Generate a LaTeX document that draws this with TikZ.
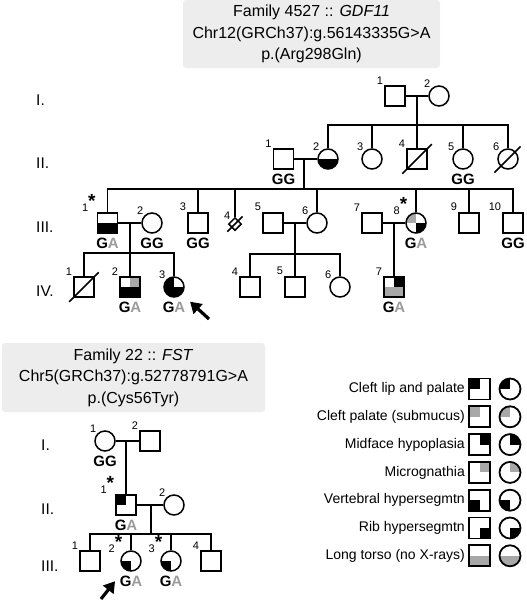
\documentclass[tikz,border=0pt]{standalone}
\usepackage{fontspec}
\setmainfont{Liberation Sans}
\usetikzlibrary{shapes.geometric,arrows.meta}

\definecolor{boxgray}{HTML}{EDEDED}
\definecolor{phgray}{HTML}{A8A8A8}
\definecolor{agray}{HTML}{9B9B9B}

\newcommand{\GA}{G\textcolor{agray}{A}}
\newcommand{\prb}{\raisebox{4pt}{\fontsize{19}{19}\selectfont\bfseries *}}

\tikzset{
  ped/.style = {draw, line width=1.5pt, minimum size=20pt, inner sep=0pt},
  male/.style = {ped, rectangle},
  female/.style = {ped, circle},
  fills/.style = {path picture={\foreach \c/\a in {#1} {\fill[\c] (path picture bounding box.center) rectangle (path picture bounding box.\a);}}},
  num/.style = {font=\fontsize{11}{11}\selectfont, inner sep=1pt},
  geno/.style = {font=\fontsize{15}{15}\selectfont\bfseries, inner sep=1pt, label distance=3pt},
  gen/.style = {font=\fontsize{15.5}{16}\selectfont, anchor=west, inner sep=0pt},
  link/.style = {line width=1.5pt},
  proband/.style = {line width=3.2pt, -{Triangle[length=11pt,width=13pt]}},
  hdr/.style = {fill=boxgray, rounded corners=3pt, align=center, font=\fontsize{16}{21.5}\selectfont},
  legtxt/.style = {anchor=east, font=\fontsize{14}{14}\selectfont, inner sep=0pt},
  leg/.style = {line width=1.8pt, minimum size=21pt},
}

\begin{document}
\begin{tikzpicture}[x=1pt, y=-1pt]
  \useasboundingbox (0,0) rectangle (527,600);

  % Family 4527
  \node[hdr, minimum width=257pt, minimum height=68pt] (hd1) at (311.5,34)
    {Family 4527 :: \textit{GDF11}\\Chr12(GRCh37):g.56143335G>A\\p.(Arg298Gln)};

  \node[gen] (g1) at (36,100) {I.};
  \node[gen] (g2) at (36,163) {II.};
  \node[gen] (g3) at (36,227) {III.};
  \node[gen] (g4) at (36,291) {IV.};

  \node[male, label={[num]135:1}] (i1) at (395,96) {};
  \node[female, label={[num]135:2}] (i2) at (439,96) {};

  \node[male, label={[num]135:1}, label={[geno]below:GG}] (ii1) at (283.5,159) {};
  \node[female, fills={black/south west,black/south east}, label={[num]135:2}] (ii2) at (328,159) {};
  \node[female, label={[num]135:3}] (ii3) at (372,159) {};
  \node[male, label={[num]135:4}] (ii4) at (417,159) {};
  \node[female, label={[num]135:5}, label={[geno]below:GG}] (ii5) at (463,159) {};
  \node[female, label={[num]135:6}] (ii6) at (508,159) {};

  \node[male, fills={black/south west,black/south east}, label={[num]135:1\prb}, label={[geno]below:\GA}] (iii1) at (107.5,223) {};
  \node[female, label={[num]135:2}, label={[geno]below:GG}] (iii2) at (152,223) {};
  \node[male, label={[num]135:3}, label={[geno]below:GG}] (iii3) at (198,223) {};
  \node[diamond, draw, line width=1.5pt, minimum size=13pt, inner sep=0pt, label={[num]135:4}] (iii4) at (235,224) {};
  \node[male, label={[num]135:5}] (iii5) at (273,223) {};
  \node[female, label={[num]135:6}] (iii6) at (317,223) {};
  \node[male, label={[num]135:7}] (iii7) at (372,223) {};
  \node[female, fills={phgray/north west,black/south east}, label={[num]135:8\prb}, label={[geno]below:\GA}] (iii8) at (416,223) {};
  \node[male, label={[num]135:9}] (iii9) at (469,223) {};
  \node[male, label={[num]135:10}, label={[geno]below:GG}] (iii10) at (513,223) {};

  \node[male, label={[num]135:1}] (iv1) at (84,287) {};
  \node[male, fills={black/south west,black/south east,phgray/north east}, label={[num]135:2}, label={[geno]below:\GA}] (iv2) at (130,287) {};
  \node[female, fills={black/south west,black/south east,black/north west}, label={[num]135:3}, label={[geno]below:\GA}] (iv3) at (174,287) {};
  \node[male, label={[num]135:4}] (iv4) at (250,287) {};
  \node[male, label={[num]135:5}] (iv5) at (295,287) {};
  \node[female, label={[num]135:6}] (iv6) at (340,287) {};
  \node[male, fills={black/north east,phgray/south west,phgray/south east}, label={[num]135:7}, label={[geno]below:\GA}] (iv7) at (394,287) {};

  \coordinate (m1) at (417,96);
  \coordinate (s2) at (417,125);
  \coordinate (m2) at (304,159);
  \coordinate (s3) at (304,189);
  \coordinate (m3) at (130,223);
  \coordinate (s4) at (130,253);
  \coordinate (m4) at (295,223);
  \coordinate (s5) at (295,254);
  \coordinate (m5) at (394,223);

  \draw[link] (i1) -- (i2);
  \draw[link] (m1) -- (ii4);
  \draw[link] (ii2.north) |- (s2) -| (ii6.north);
  \draw[link] (ii3.north) -- (ii3.north |- s2);
  \draw[link] (ii5.north) -- (ii5.north |- s2);

  \draw[link] (ii1) -- (ii2);
  \draw[link] (m2) -- (s3);
  \draw[link] (iii1.north) |- (s3) -| (iii10.north);
  \foreach \n in {iii3,iii4,iii6,iii8,iii9}
    \draw[link] (\n.north) -- (\n.north |- s3);

  \draw[link] (iii1) -- (iii2);
  \draw[link] (m3) -- (iv2);
  \draw[link] (iv1.north) |- (s4) -| (iv3.north);

  \draw[link] (iii5) -- (iii6);
  \draw[link] (m4) -- (iv5);
  \draw[link] (iv4.north) |- (s5) -| (iv6.north);

  \draw[link] (iii7) -- (iii8);
  \draw[link] (m5) -- (iv7);

  % deceased
  \draw[link] ([shift={(-4pt,-4pt)}]ii4.south west) -- ([shift={(4pt,4pt)}]ii4.north east);
  \draw[link] ([shift={(-6pt,-6pt)}]ii6.south west) -- ([shift={(5pt,5pt)}]ii6.north east);
  \draw[link] ([shift={(-4pt,-4pt)}]iii4.south west) -- ([shift={(4pt,4pt)}]iii4.north east);
  \draw[link] ([shift={(-4pt,-4pt)}]iv1.south west) -- ([shift={(4pt,4pt)}]iv1.north east);

  \coordinate (a1) at (209,319);
  \draw[proband, shorten >=11pt] (a1) -- (iv3);

  % Family 22
  \node[hdr, minimum width=263pt, minimum height=69pt] (hd2) at (133.5,377.5)
    {Family 22 :: \textit{FST}\\Chr5(GRCh37):g.52778791G>A\\p.(Cys56Tyr)};

  \node[gen] (fg1) at (41,445) {I.};
  \node[gen] (fg2) at (41,509) {II.};
  \node[gen] (fg3) at (41,566) {III.};

  \node[female, label={[num]135:1}, label={[geno]below:GG}] (fi1) at (105,441) {};
  \node[male, label={[num]135:2}] (fi2) at (150,441) {};
  \node[male, fills={black/north west}, label={[num]135:1\prb}, label={[geno]below:\GA}] (fii1) at (126,505) {};
  \node[female, label={[num]135:2}] (fii2) at (174,505) {};
  \node[male, label={[num]135:1}] (fiii1) at (90,561) {};
  \node[female, fills={black/south west}, label={[num]135:2\prb}, label={[geno]below:\GA}] (fiii2) at (131,561) {};
  \node[female, fills={black/south west}, label={[num]135:3\prb}, label={[geno]below:\GA}] (fiii3) at (171,561) {};
  \node[male, label={[num]135:4}] (fiii4) at (211,561) {};

  \coordinate (fm1) at (126,441);
  \coordinate (fm2) at (151,505);
  \coordinate (fs3) at (151,534);

  \draw[link] (fi1) -- (fi2);
  \draw[link] (fm1) -- (fii1);
  \draw[link] (fii1) -- (fii2);
  \draw[link] (fm2) -- (fs3);
  \draw[link] (fiii1.north) |- (fs3) -| (fiii4.north);
  \draw[link] (fiii2.north) -- (fiii2.north |- fs3);
  \draw[link] (fiii3.north) -- (fiii3.north |- fs3);

  \coordinate (a2) at (101,599);
  \draw[proband, shorten >=15pt] (a2) -- (fiii2);

  % legend
  \node[legtxt] (t1) at (465,389) {Cleft lip and palate};
  \node[male, leg, fills={black/north west}] (ls1) at (479.5,389) {};
  \node[female, leg, fills={black/north west}] (lc1) at (510,389) {};
  \node[legtxt] (t2) at (465,416.8) {Cleft palate (submucus)};
  \node[male, leg, fills={phgray/north west}] (ls2) at (479.5,416.8) {};
  \node[female, leg, fills={phgray/north west}] (lc2) at (510,416.8) {};
  \node[legtxt] (t3) at (465,444.6) {Midface hypoplasia};
  \node[male, leg, fills={black/north east}] (ls3) at (479.5,444.6) {};
  \node[female, leg, fills={black/north east}] (lc3) at (510,444.6) {};
  \node[legtxt] (t4) at (465,472.4) {Micrognathia};
  \node[male, leg, fills={phgray/north east}] (ls4) at (479.5,472.4) {};
  \node[female, leg, fills={phgray/north east}] (lc4) at (510,472.4) {};
  \node[legtxt] (t5) at (465,500.2) {Vertebral hypersegmtn};
  \node[male, leg, fills={black/south west}] (ls5) at (479.5,500.2) {};
  \node[female, leg, fills={black/south west}] (lc5) at (510,500.2) {};
  \node[legtxt] (t6) at (465,528) {Rib hypersegmtn};
  \node[male, leg, fills={black/south east}] (ls6) at (479.5,528) {};
  \node[female, leg, fills={black/south east}] (lc6) at (510,528) {};
  \node[legtxt] (t7) at (465,555.8) {Long torso (no X-rays)};
  \node[male, leg, fills={phgray/south west,phgray/south east}] (ls7) at (479.5,555.8) {};
  \node[female, leg, fills={phgray/south west,phgray/south east}] (lc7) at (510,555.8) {};
\end{tikzpicture}
\end{document}
